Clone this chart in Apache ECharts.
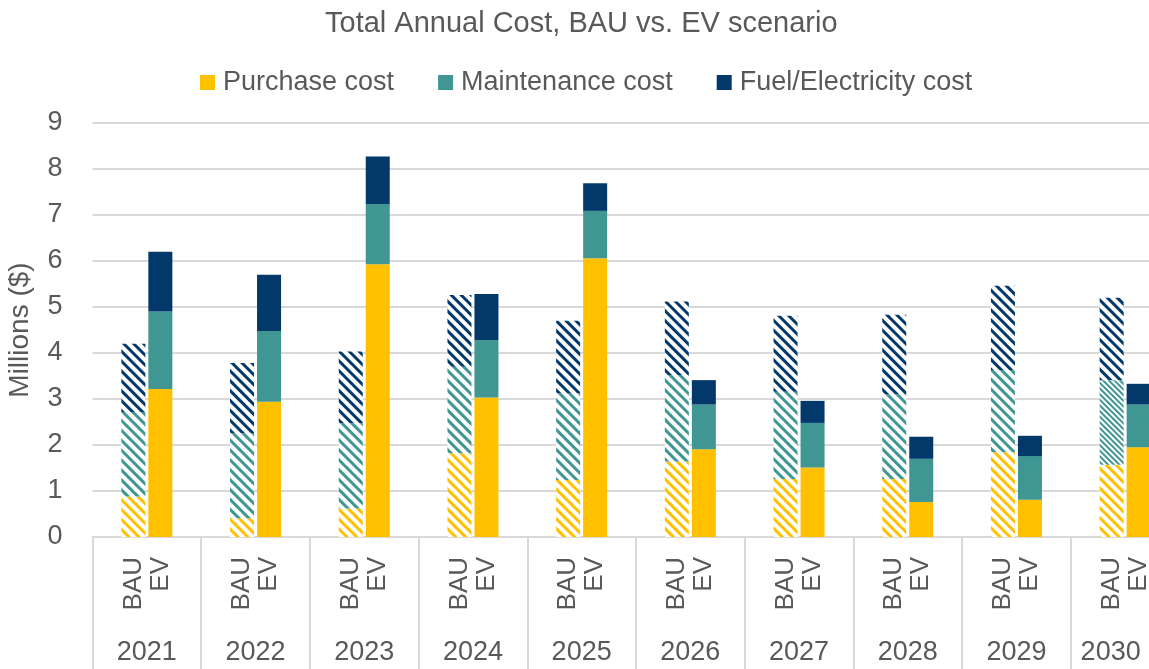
<!DOCTYPE html>
<html>
<head>
<meta charset="utf-8">
<script src="https://cdn.jsdelivr.net/npm/echarts@6/dist/echarts.min.js"></script>
<style>
html,body{margin:0;padding:0;background:#fff;}
#chart{width:1149px;height:669px;}
</style>
</head>
<body>
<div id="chart"></div>
<script>
const years = ['2021','2022','2023','2024','2025','2026','2027','2028','2029','2030'];
const scenarioLabels = ['BAU','EV'];
const costNames = ['Purchase cost','Maintenance cost','Fuel/Electricity cost'];
const yTicks = [0,1,2,3,4,5,6,7,8,9];

const bauPurchase = [0.88, 0.41, 0.62, 1.82, 1.24, 1.64, 1.26, 1.26, 1.84, 1.57];
const bauMaint    = [1.84, 1.84, 1.85, 1.88, 1.88, 1.88, 1.90, 1.85, 1.79, 1.84];
const bauFuel     = [1.48, 1.53, 1.56, 1.56, 1.58, 1.60, 1.65, 1.72, 1.83, 1.79];
const evPurchase  = [3.22, 2.94, 5.93, 3.03, 6.06, 1.91, 1.51, 0.76, 0.81, 1.95];
const evMaint     = [1.68, 1.54, 1.31, 1.25, 1.03, 0.97, 0.97, 0.94, 0.95, 0.93];
const evFuel      = [1.30, 1.22, 1.03, 1.00, 0.60, 0.53, 0.48, 0.48, 0.44, 0.45];

const colors = ['#FFC000', '#3F9693', '#02386A'];
const textColor = '#595959';
const gridColor = '#d9d9d9';
const FONT = 'Liberation Sans, Arial, sans-serif';

function hatch(color, dense) {
  return {
    symbol: 'rect',
    symbolSize: 1,
    color: color,
    dashArrayX: [1, 0],
    dashArrayY: dense ? [1.6, 1.6] : [3, 3.4],
    rotation: Math.PI / 4
  };
}

function bauSeries(name, values, color, denseIdx) {
  return {
    name: 'BAU ' + name,
    type: 'bar',
    stack: 'BAU',
    xAxisIndex: 0,
    barWidth: 24,
    barGap: '12.5%',
    itemStyle: { color: '#ffffff', decal: hatch(color, false) },
    data: values.map((v, i) => (denseIdx && denseIdx.indexOf(i) >= 0)
      ? { value: v, itemStyle: { color: '#ffffff', decal: hatch(color, true) } }
      : v)
  };
}
function evSeries(name, values, color) {
  return {
    name: name,
    type: 'bar',
    stack: 'EV',
    xAxisIndex: 0,
    barWidth: 24,
    barGap: '12.5%',
    itemStyle: { color: color },
    data: values
  };
}

const chart = echarts.init(document.getElementById('chart'), null, { renderer: 'canvas' });
chart.setOption({
  animation: false,
  backgroundColor: '#ffffff',
  textStyle: { fontFamily: FONT },
  title: {
    text: 'Total Annual Cost, BAU vs. EV scenario',
    left: 320,
    top: 4,
    textStyle: { fontSize: 29, fontWeight: 'normal', color: textColor, fontFamily: FONT }
  },
  legend: {
    data: costNames,
    left: 195,
    top: 64,
    itemWidth: 15,
    itemHeight: 15,
    itemGap: 44,
    icon: 'rect',
    textStyle: { fontSize: 27, color: textColor, fontFamily: FONT, padding: [0, 0, 0, 3] }
  },
  grid: { left: 92.5, width: 1087, top: 123, bottom: 132, containLabel: false, outerBoundsMode: 'none' },
  xAxis: [
    {
      type: 'category',
      data: years,
      position: 'bottom',
      axisLine: { show: true, lineStyle: { color: gridColor, width: 2 } },
      axisTick: { show: true, length: 132, lineStyle: { color: gridColor, width: 2 } },
      axisLabel: {
        interval: 0,
        rotate: 90,
        margin: 20,
        lineHeight: 27,
        fontSize: 26,
        color: textColor,
        fontFamily: FONT,
        formatter: function () { return scenarioLabels.join('\n'); }
      }
    },
    {
      type: 'category',
      data: years,
      position: 'bottom',
      axisLine: { show: false },
      axisTick: { show: false },
      axisLabel: {
        interval: 0,
        margin: 102,
        fontSize: 27,
        color: textColor,
        fontFamily: FONT,
        formatter: function (v, i) { return i === years.length - 1 ? '{last|' + v + '}' : v; },
        rich: { last: { fontSize: 27, color: textColor, fontFamily: FONT, padding: [0, 29, 0, 0] } }
      }
    }
  ],
  yAxis: {
    type: 'value',
    min: yTicks[0],
    max: yTicks[yTicks.length - 1],
    interval: 1,
    name: 'Millions ($)',
    nameLocation: 'middle',
    nameGap: 58,
    nameTextStyle: { fontSize: 28, color: textColor, fontFamily: FONT },
    axisLine: { show: false },
    axisTick: { show: false },
    axisLabel: { fontSize: 27, color: textColor, margin: 30, fontFamily: FONT },
    splitLine: { lineStyle: { color: gridColor, width: 2 } }
  },
  series: [
    bauSeries(costNames[0], bauPurchase, colors[0]),
    bauSeries(costNames[1], bauMaint, colors[1], [9]),
    bauSeries(costNames[2], bauFuel, colors[2]),
    evSeries(costNames[0], evPurchase, colors[0]),
    evSeries(costNames[1], evMaint, colors[1]),
    evSeries(costNames[2], evFuel, colors[2])
  ]
});
</script>
</body>
</html>
